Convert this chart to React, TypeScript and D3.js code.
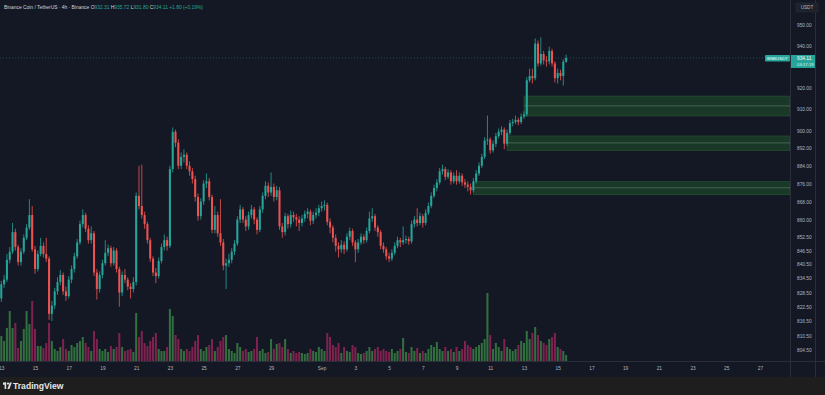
import React, { useEffect, useRef } from 'react';
import * as d3 from 'd3';

// BNB/USDT 4h bars, first bar 13 Aug 00:00
const firstBar = new Date(2025, 7, 13, 0, 0);
const barHours = 4;

// [open, high, low, close]
const candles: number[][] = [
  [826, 833.5, 824.5, 832], [832, 836, 830.5, 834], [834, 845, 833, 842.5], [842.5, 848, 841, 846],
  [846, 858.5, 845, 854.5], [854.5, 856, 846.5, 848], [848, 849, 840, 841.5], [841.5, 847.5, 840, 846],
  [846, 853.5, 845, 852], [852, 858, 851, 856.5], [856.5, 869, 855.5, 862], [862, 866, 846, 847],
  [847, 848.5, 836.5, 838.5], [838.5, 846.5, 837.5, 845], [845, 852, 844, 848.5], [848.5, 850, 843.5, 845],
  [845, 852, 841.5, 843], [843, 844, 817, 819.5], [819.5, 825, 816.5, 823], [823, 830.5, 821.5, 829],
  [829, 835, 827.5, 833], [833, 838, 831.5, 836], [836, 837, 827.5, 829], [829, 831, 825, 827],
  [827, 835.5, 826, 834], [834, 840, 832.5, 838.5], [838.5, 845.5, 837, 844], [844, 851.5, 843, 850],
  [850, 859.5, 849, 858], [858, 864.5, 856.5, 862], [862, 863, 854.5, 856], [856, 857.5, 849.5, 851],
  [851, 857, 849.5, 854], [854, 855, 835.5, 837], [837, 838.5, 825.5, 830], [830, 837.5, 828.5, 836],
  [836, 842.5, 834.5, 841], [841, 851, 840, 845.5], [845.5, 849, 844, 847.5], [847.5, 848.5, 839.5, 841],
  [841, 848, 840, 846.5], [846.5, 847.5, 837, 838.5], [838.5, 839.5, 822.5, 828.5], [828.5, 837.5, 827, 836],
  [836, 838.5, 832.5, 834], [834, 835, 829.5, 831], [831, 832.5, 826, 830], [830, 835, 828.5, 833],
  [833, 872, 831.5, 870.5], [870.5, 884, 864.5, 866], [866, 884.5, 860.5, 862], [862, 863.5, 856, 858],
  [858, 859, 849.5, 851], [851, 852, 841.5, 843], [843, 844, 835.5, 837], [837, 839, 832.5, 835.5],
  [835.5, 843.5, 834.5, 842], [842, 849.5, 841, 848], [848, 853.5, 846.5, 851], [851, 852.5, 846.5, 848.5],
  [848.5, 884, 847.5, 882.5], [882.5, 901.5, 881, 899.5], [899.5, 900.5, 892.5, 894.5], [894.5, 896, 882.5, 884],
  [884, 890, 882.5, 888], [888, 891.5, 885.5, 889], [889, 890, 882.5, 884], [884, 886, 879.5, 881.5],
  [881.5, 883, 876, 878], [878, 879.5, 868, 870], [870, 871.5, 859.5, 861.5], [861.5, 869.5, 860, 868],
  [868, 877.5, 866.5, 876], [876, 880.5, 874, 877], [877, 878.5, 868.5, 870], [870, 871, 854, 855.5],
  [855.5, 866, 854, 862], [862, 863.5, 852.5, 854], [854, 869, 848.5, 850], [850, 851.5, 838, 840],
  [840, 843, 830, 841], [841, 845, 839.5, 842.5], [842.5, 847.5, 841, 846], [846, 851, 844.5, 849.5],
  [849.5, 861.5, 848.5, 860], [860, 866.5, 858.5, 864.5], [864.5, 865.5, 858.5, 860], [860, 861.5, 855, 857],
  [857, 863.5, 855.5, 862], [862, 866.5, 860.5, 864.5], [864.5, 865.5, 858, 860], [860, 861, 853.5, 855.5],
  [855.5, 866, 854.5, 864.5], [864.5, 872, 863, 870.5], [870.5, 877, 869, 875], [875, 876.5, 870, 872],
  [872, 881, 870.5, 874.5], [874.5, 876, 868, 870], [870, 875, 868.5, 873], [873, 874.5, 855.5, 857],
  [857, 858.5, 852, 854.5], [854.5, 863, 853, 861.5], [861.5, 862.5, 856, 858], [858, 864, 856.5, 862],
  [862, 863.5, 859, 861], [861, 862.5, 857, 860], [860, 861.5, 855, 858.5], [858.5, 862, 857, 860.5],
  [860.5, 864, 859, 862.5], [862.5, 865, 860.5, 863.5], [863.5, 864.5, 857.5, 859.5], [859.5, 863.5, 858, 862],
  [862, 865, 860.5, 863], [863, 866.5, 861.5, 865], [865, 868, 863.5, 866], [866, 868.5, 864, 866.5],
  [866.5, 867.5, 857.5, 859], [859, 860.5, 854, 856.5], [856.5, 857.5, 850, 852], [852, 853.5, 846, 848.5],
  [848.5, 850, 843.5, 847], [847, 851, 845.5, 849], [849, 850.5, 845, 847], [847, 854, 846, 852.5],
  [852.5, 856.5, 851, 855], [855, 856, 848.5, 850], [850, 851, 841.5, 847], [847, 851.5, 845.5, 850],
  [850, 854, 849, 852.5], [852.5, 853.5, 849.5, 851], [851, 856.5, 850, 855], [855, 863.5, 854, 860.5],
  [860.5, 865, 859, 861.5], [861.5, 862.5, 855, 856.5], [856.5, 857.5, 852.5, 854.5], [854.5, 855.5, 847, 848.5],
  [848.5, 850, 845.5, 847], [847, 848, 842.5, 844], [844, 845.5, 841.5, 843], [843, 847, 842, 845.5],
  [845.5, 850, 844.5, 848.5], [848.5, 852.5, 847.5, 851], [851, 852, 848, 850], [850, 857, 849, 851],
  [851, 853, 849.5, 851.5], [851.5, 852.5, 849, 850.5], [850.5, 859.5, 849.5, 858], [858, 861.5, 856.5, 860],
  [860, 865, 857, 858.5], [858.5, 863, 857.5, 861.5], [861.5, 862.5, 856.5, 858.5], [858.5, 864.5, 857.5, 863],
  [863, 867.5, 862, 866], [866, 872, 865, 870.5], [870.5, 875.5, 869.5, 874], [874, 878, 872.5, 876.5],
  [876.5, 883, 875.5, 881.5], [881.5, 884.5, 880, 882.5], [882.5, 883.5, 877.5, 879], [879, 882.5, 878, 881],
  [881, 882, 875.5, 877], [877, 881, 876, 879.5], [879.5, 882, 875.5, 877], [877, 881, 876, 879.5],
  [879.5, 880.5, 875, 876.5], [876.5, 878, 874, 875.5], [875.5, 877, 872.5, 874.5], [874.5, 876, 871, 873],
  [873, 878.5, 872, 877], [877, 882, 876, 880.5], [880.5, 885.5, 879.5, 884], [884, 889.5, 883, 888],
  [888, 897, 887, 895.5], [895.5, 907, 893.5, 896], [896, 897, 889.5, 891], [891, 895.5, 890, 894],
  [894, 899, 892.5, 897.5], [897.5, 901, 896.5, 899.5], [899.5, 902, 898, 900.5], [900.5, 901.5, 891.5, 894],
  [894, 900.5, 893, 899], [899, 905, 898, 903.5], [903.5, 905.5, 902, 904], [904, 907, 903, 905],
  [905, 906, 902.5, 904], [904, 908, 903, 906.5], [906.5, 909, 905.5, 907.5], [907.5, 925, 906.5, 923.5],
  [923.5, 929, 922.5, 925.5], [925.5, 929, 922, 924.5], [924.5, 943.5, 923.5, 941], [941, 942.5, 930, 931.5],
  [931.5, 944, 930.5, 936], [936, 937.5, 931, 933], [933, 935, 930, 932.5], [932.5, 939.5, 931, 937.5],
  [937.5, 938.5, 930, 931.5], [931.5, 932.5, 922.5, 924.5], [924.5, 929, 922, 927], [927, 928.5, 923.5, 925.5],
  [925.5, 933.5, 921, 932.31], [932.31, 935.72, 931.8, 934.11],
];

// volume per bar (K BNB)
const volumes: number[] = [
  25, 20, 33, 50, 33, 38, 13, 20, 32, 50, 37, 60, 32, 15, 15, 13, 18, 38, 20, 12,
  10, 14, 22, 12, 10, 16, 14, 18, 20, 24, 18, 14, 10, 30, 22, 12, 10, 12, 9, 15,
  12, 14, 28, 14, 10, 11, 12, 9, 48, 24, 30, 18, 15, 20, 24, 28, 12, 10, 10, 14,
  52, 45, 26, 22, 12, 10, 12, 10, 14, 20, 26, 12, 10, 14, 16, 22, 10, 14, 20, 24,
  26, 12, 10, 8, 18, 14, 10, 12, 9, 10, 12, 24, 10, 12, 8, 9, 22, 12, 17, 18,
  14, 22, 12, 8, 10, 8, 9, 8, 7, 8, 12, 10, 9, 14, 12, 10, 28, 24, 16, 14,
  18, 8, 14, 10, 9, 16, 14, 8, 7, 8, 10, 14, 10, 12, 14, 10, 12, 10, 9, 12,
  8, 10, 12, 23, 9, 8, 14, 10, 13, 8, 10, 8, 12, 16, 14, 19, 12, 10, 14, 10,
  12, 9, 14, 10, 12, 20, 16, 14, 12, 14, 16, 18, 22, 68, 26, 12, 18, 14, 10, 22,
  14, 12, 10, 12, 16, 20, 18, 30, 22, 28, 34, 26, 20, 18, 16, 22, 24, 28, 14, 12,
  10, 6,
];

const priceTicks = [950, 940, 920, 910, 900, 892, 884, 876, 868, 860, 852.5, 846.5, 840.5, 834.5, 828.5, 822.5, 816.5, 810.5, 804.5];

const timeTicks = [
  new Date(2025, 7, 13), new Date(2025, 7, 15), new Date(2025, 7, 17), new Date(2025, 7, 19),
  new Date(2025, 7, 21), new Date(2025, 7, 23), new Date(2025, 7, 25), new Date(2025, 7, 27),
  new Date(2025, 7, 29), new Date(2025, 8, 1), new Date(2025, 8, 3), new Date(2025, 8, 5),
  new Date(2025, 8, 7), new Date(2025, 8, 9), new Date(2025, 8, 11), new Date(2025, 8, 13),
  new Date(2025, 8, 15), new Date(2025, 8, 17), new Date(2025, 8, 19), new Date(2025, 8, 21),
  new Date(2025, 8, 23), new Date(2025, 8, 25), new Date(2025, 8, 27),
];

// demand zones: start date, top, middle, bottom
const zoneStarts = [new Date(2025, 8, 13), new Date(2025, 8, 12), new Date(2025, 8, 10)];
const zoneTops = [916.1, 897.6, 876.9];
const zoneMids = [911.5, 894.4, 874.1];
const zoneBottoms = [906.8, 890.9, 871.0];

const lastPrice = 934.11;
const legendName = 'Binance Coin / TetherUS · 4h · Binance';
const legendOHLC = [['O', '932.31'], ['H', '935.72'], ['L', '931.80'], ['C', '934.11']];
const legendChange = '+1.80 (+0.19%)';

const W = 825;
const H = 395;

const App = () => {
  const svgRef = useRef<SVGSVGElement>(null);

  useEffect(() => {
    const svg = d3.select(svgRef.current);
    svg.selectAll('*').remove();

    const paneRight = 790;
    const paneBottom = 361;
    const axisBottom = 377;

    const bg = '#141824';
    const up = '#26a69a';
    const down = '#ef5350';
    const textCol = '#b2b5be';
    const font = '"Liberation Sans", Arial, sans-serif';

    const barTime = (i: number) => new Date(firstBar.getTime() + i * barHours * 3600 * 1000);

    const x = d3.scaleTime()
      .domain([new Date(2025, 7, 13), new Date(2025, 8, 27)])
      .range([1.3, 760]);
    const y = d3.scaleLog().domain([804.5, 950]).range([350, 25]);
    const yVol = d3.scaleLinear().domain([0, 100]).range([paneBottom, paneBottom - 100]);

    const step = x(barTime(1)) - x(barTime(0));
    const bodyW = Math.max(1, step * 0.72);

    svg.append('rect').attr('width', W).attr('height', H).attr('fill', bg);
    svg.append('rect').attr('y', axisBottom).attr('width', W).attr('height', H - axisBottom).attr('fill', '#1e1e1e');

    svg.append('clipPath').attr('id', 'pane')
      .append('rect').attr('width', paneRight).attr('height', paneBottom);

    const pane = svg.append('g').attr('clip-path', 'url(#pane)');

    // volume
    pane.selectAll('.vol')
      .data(volumes)
      .enter()
      .append('rect')
      .attr('x', (d, i) => x(barTime(i)) - bodyW / 2)
      .attr('width', bodyW)
      .attr('y', d => yVol(d))
      .attr('height', d => paneBottom - yVol(d))
      .attr('fill', (d, i) => candles[i][3] >= candles[i][0] ? '#357a42' : '#8c2354')
      .attr('opacity', 0.9);

    // zones
    zoneStarts.forEach((start, k) => {
      const x0 = x(start);
      pane.append('rect')
        .attr('x', x0).attr('width', paneRight - x0)
        .attr('y', y(zoneTops[k])).attr('height', y(zoneBottoms[k]) - y(zoneTops[k]))
        .attr('fill', 'rgba(40,120,48,0.33)')
        .attr('stroke', 'rgba(60,150,70,0.35)')
        .attr('stroke-width', 0.7);
      pane.append('line')
        .attr('x1', x0).attr('x2', paneRight)
        .attr('y1', y(zoneMids[k])).attr('y2', y(zoneMids[k]))
        .attr('stroke', 'rgba(165,200,165,0.45)')
        .attr('stroke-width', 0.7);
    });

    // last price line
    pane.append('line')
      .attr('x1', 0).attr('x2', paneRight)
      .attr('y1', y(lastPrice)).attr('y2', y(lastPrice))
      .attr('stroke', up).attr('stroke-opacity', 0.5)
      .attr('stroke-dasharray', '1,2').attr('stroke-width', 0.8);

    // candles
    const c = pane.selectAll('.candle')
      .data(candles)
      .enter()
      .append('g')
      .attr('fill', d => d[3] >= d[0] ? up : down)
      .attr('stroke', d => d[3] >= d[0] ? up : down);

    c.append('line')
      .attr('x1', (d, i) => x(barTime(i)))
      .attr('x2', (d, i) => x(barTime(i)))
      .attr('y1', d => y(d[1]))
      .attr('y2', d => y(d[2]))
      .attr('stroke-width', 0.8);

    c.append('rect')
      .attr('stroke', 'none')
      .attr('x', (d, i) => x(barTime(i)) - bodyW / 2)
      .attr('width', bodyW)
      .attr('y', d => y(Math.max(d[0], d[3])))
      .attr('height', d => Math.max(0.8, Math.abs(y(d[0]) - y(d[3]))));

    // separators
    svg.append('line').attr('x1', paneRight + 0.5).attr('x2', paneRight + 0.5)
      .attr('y1', 0).attr('y2', axisBottom).attr('stroke', '#2a2e39');
    svg.append('line').attr('x1', 0).attr('x2', W)
      .attr('y1', paneBottom + 0.5).attr('y2', paneBottom + 0.5).attr('stroke', '#2a2e39');
    svg.append('line').attr('x1', 815.5).attr('x2', 815.5)
      .attr('y1', 0).attr('y2', axisBottom).attr('stroke', '#2a2e39');

    // price axis
    const yAxis = svg.append('g')
      .attr('transform', `translate(${paneRight + 5},0)`)
      .call(d3.axisRight(y).tickValues(priceTicks).tickFormat(d3.format('.2f')).tickSize(0));
    yAxis.select('.domain').remove();
    yAxis.selectAll('text')
      .attr('x', 2)
      .style('font-family', font)
      .style('font-size', '4.8px')
      .style('fill', textCol);

    // time axis
    const xAxis = svg.append('g')
      .attr('transform', `translate(0,${paneBottom + 3})`)
      .call(d3.axisBottom(x).tickValues(timeTicks)
        .tickFormat(d => (d as Date).getDate() === 1 ? 'Sep' : String((d as Date).getDate()))
        .tickSize(0));
    xAxis.select('.domain').remove();
    xAxis.selectAll('text')
      .style('font-family', font)
      .style('font-size', '4.8px')
      .style('fill', textCol);

    // USDT box
    svg.append('rect').attr('x', 796).attr('y', 3).attr('width', 22).attr('height', 9)
      .attr('fill', '#1e222d').attr('stroke', '#2a2e39').attr('stroke-width', 0.5);
    svg.append('text').attr('x', 807).attr('y', 9.3).attr('text-anchor', 'middle')
      .style('font-family', font).style('font-size', '4.6px').style('fill', textCol).text('USDT');

    // last price tags
    const ly = y(lastPrice);
    svg.append('rect').attr('x', 765).attr('y', ly - 3).attr('width', 25).attr('height', 6.5)
      .attr('fill', up).attr('rx', 1);
    svg.append('text').attr('x', 777.5).attr('y', ly + 1.6).attr('text-anchor', 'middle')
      .style('font-family', font).style('font-size', '4.4px').style('fill', '#ffffff').text('BNBUSDT');
    svg.append('rect').attr('x', 791).attr('y', ly - 3).attr('width', 24).attr('height', 13)
      .attr('fill', up);
    svg.append('text').attr('x', 797).attr('y', ly + 1.8)
      .style('font-family', font).style('font-size', '4.8px').style('fill', '#ffffff').text('934.11');
    svg.append('text').attr('x', 797).attr('y', ly + 7.6)
      .style('font-family', font).style('font-size', '4.3px').style('fill', '#e0f2f1').text('03:17:19');

    // legend
    const legend = svg.append('text').attr('x', 4).attr('y', 8.5)
      .style('font-family', font).style('font-size', '4.9px');
    legend.append('tspan').style('fill', '#d1d4dc').text(legendName + '  ');
    legendOHLC.forEach(([k, v]) => {
      legend.append('tspan').style('fill', '#d1d4dc').text(k);
      legend.append('tspan').style('fill', up).text(v + ' ');
    });
    legend.append('tspan').style('fill', up).text(legendChange);

    // TradingView mark
    const logo = svg.append('g').attr('transform', 'translate(3,381)');
    logo.append('rect').attr('x', 0).attr('y', 1.5).attr('width', 3).attr('height', 2.2).attr('fill', '#e0e0e0');
    logo.append('rect').attr('x', 1.6).attr('y', 1.5).attr('width', 1.6).attr('height', 6.5).attr('fill', '#e0e0e0');
    logo.append('circle').attr('cx', 5).attr('cy', 2.6).attr('r', 1.1).attr('fill', '#e0e0e0');
    logo.append('path').attr('d', 'M4.4,8 L6.8,1.5 L8.8,1.5 L6.4,8 Z').attr('fill', '#e0e0e0');
    svg.append('text').attr('x', 13).attr('y', 389)
      .style('font-family', font).style('font-size', '8.6px').style('font-weight', 'bold')
      .style('fill', '#e6e6e6').text('TradingView');
  }, []);

  return (
    <div style={{ position: 'fixed', left: 0, top: 0 }}>
      <svg ref={svgRef} width={W} height={H}></svg>
    </div>
  );
};

export default App;
